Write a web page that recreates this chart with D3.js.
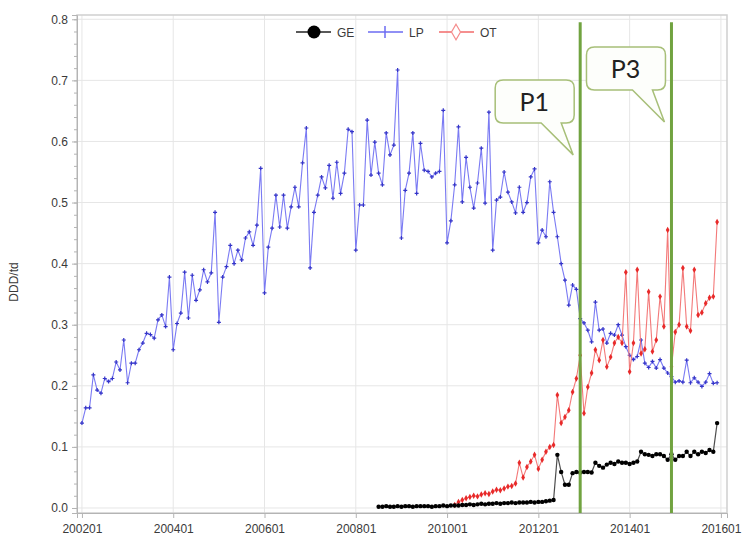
<!DOCTYPE html>
<html>
<head>
<meta charset="utf-8">
<script src="https://cdn.jsdelivr.net/npm/d3@7"></script>
<style>
  body { margin: 0; background: #fff; }
  svg { display: block; font-family: "Liberation Sans", Arial, sans-serif; }
</style>
</head>
<body>
<div id="chart"></div>
<script>
'use strict'

////////////////////////////////////////
/////////////// Data ///////////////////
////////////////////////////////////////

const xTickLabels = ["200201", "200401", "200601", "200801", "201001", "201201", "201401", "201601"];
const yTicks = [0, 0.1, 0.2, 0.3, 0.4, 0.5, 0.6, 0.7, 0.8];

// LP, monthly from 200201
const lpStart = "200201";
const lpValues = [
  0.139, 0.164, 0.164, 0.218, 0.193, 0.188, 0.212, 0.207, 0.212, 0.239, 0.226, 0.275,
  0.205, 0.237, 0.237, 0.259, 0.270, 0.286, 0.284, 0.278, 0.308, 0.316, 0.297, 0.378,
  0.259, 0.302, 0.319, 0.386, 0.311, 0.381, 0.340, 0.357, 0.390, 0.370, 0.385, 0.484,
  0.304, 0.378, 0.395, 0.430, 0.400, 0.422, 0.406, 0.442, 0.452, 0.430, 0.463, 0.556,
  0.352, 0.427, 0.458, 0.512, 0.460, 0.512, 0.458, 0.493, 0.525, 0.493, 0.565, 0.622,
  0.393, 0.484, 0.512, 0.542, 0.524, 0.561, 0.507, 0.566, 0.515, 0.548, 0.620, 0.616,
  0.422, 0.496, 0.496, 0.635, 0.545, 0.599, 0.548, 0.529, 0.614, 0.578, 0.594, 0.717,
  0.442, 0.520, 0.548, 0.614, 0.515, 0.597, 0.553, 0.551, 0.542, 0.548, 0.551, 0.651,
  0.434, 0.470, 0.529, 0.624, 0.501, 0.574, 0.525, 0.491, 0.532, 0.589, 0.499, 0.648,
  0.422, 0.504, 0.509, 0.550, 0.517, 0.501, 0.483, 0.525, 0.484, 0.500, 0.542, 0.555,
  0.434, 0.455, 0.444, 0.534, 0.484, 0.444, 0.400, 0.373, 0.332, 0.365, 0.358, 0.310,
  0.303, 0.291, 0.272, 0.337, 0.291, 0.293, 0.270, 0.286, 0.283, 0.300, 0.283, 0.264,
  0.250, 0.243, 0.248, 0.275, 0.237, 0.230, 0.240, 0.229, 0.243, 0.229, 0.221, 0.215,
  0.206, 0.208, 0.206, 0.242, 0.205, 0.213, 0.206, 0.199, 0.206, 0.220, 0.204, 0.205
];

// GE, monthly from 200807
const geStart = "200807";
const geValues = [
  0.002, 0.002, 0.003, 0.002, 0.002, 0.003, 0.002, 0.003, 0.003, 0.002, 0.003, 0.003,
  0.003, 0.003, 0.002, 0.003, 0.003, 0.004, 0.003, 0.004, 0.004, 0.004, 0.005, 0.005,
  0.006, 0.005, 0.006, 0.007, 0.006, 0.007, 0.007, 0.008, 0.007, 0.008, 0.008, 0.009,
  0.008, 0.009, 0.009, 0.009, 0.010, 0.009, 0.010, 0.010, 0.011, 0.012, 0.013, 0.087,
  0.059, 0.038, 0.038, 0.057, 0.059, 0.058, 0.059, 0.059, 0.058, 0.074, 0.069, 0.066,
  0.071, 0.074, 0.072, 0.076, 0.074, 0.074, 0.072, 0.074, 0.076, 0.092, 0.088, 0.087,
  0.085, 0.088, 0.088, 0.085, 0.079, 0.088, 0.079, 0.085, 0.085, 0.092, 0.085, 0.092,
  0.088, 0.092, 0.090, 0.095, 0.092, 0.139
];

// OT, monthly from 201003
const otStart = "201003";
const otValues = [
  0.005, 0.010, 0.013, 0.016, 0.018, 0.020, 0.019, 0.022, 0.024, 0.023, 0.027, 0.030,
  0.029, 0.032, 0.035, 0.036, 0.040, 0.074, 0.050, 0.067, 0.076, 0.087, 0.064, 0.079,
  0.092, 0.100, 0.103, 0.185, 0.139, 0.149, 0.160, 0.190, 0.212, 0.250, 0.155, 0.198,
  0.221, 0.259, 0.242, 0.275, 0.231, 0.247, 0.270, 0.280, 0.270, 0.386, 0.223, 0.270,
  0.390, 0.253, 0.260, 0.354, 0.256, 0.275, 0.346, 0.297, 0.455, 0.231, 0.288, 0.300,
  0.393, 0.297, 0.290, 0.390, 0.316, 0.320, 0.335, 0.344, 0.346, 0.468
];

// period markers
const periodLabels = ["P1", "P3"];
const periodMonths = ["201212", "201412"];
const periodTips = [0.578, 0.632];

////////////////////////////////////////
/////////////// Options ////////////////
////////////////////////////////////////

const options = {
  width: 747,
  height: 546,
  margin: { top: 15, right: 20, bottom: 33, left: 77 },
  grid: "#e6e6e6",
  axis: "#b4b4b4",
  text: "#3a3a3a",
  green: "#71a340",
  callStroke: "#a7bf78"
};

const series = [
  { name: "GE", start: geStart, values: geValues, line: "#222", dot: "#000" },
  { name: "LP", start: lpStart, values: lpValues, line: "#6b6bf2", dot: "#3434c8" },
  { name: "OT", start: otStart, values: otValues, line: "#f26a6a", dot: "#e82a2a" }
];

////////////////////////////////////////
////////////// Helpers /////////////////
////////////////////////////////////////

const monthIndex = s => (+s.slice(0, 4) - 2002) * 12 + (+s.slice(4) - 1);

const toPoints = s => s.values.map((v, i) => ({ m: monthIndex(s.start) + i, v: v }));

////////////////////////////////////////
////////////// SVG Setup ///////////////
////////////////////////////////////////

const m = options.margin;
const innerW = options.width - m.left - m.right;
const innerH = options.height - m.top - m.bottom;

const svg = d3.select("#chart").append("svg")
  .attr("width", options.width)
  .attr("height", options.height);

const x = d3.scaleLinear()
  .domain([-1.3, 169.6])
  .range([m.left, m.left + innerW]);

const y = d3.scaleLinear()
  .domain([-0.0082, 0.807])
  .range([m.top + innerH, m.top]);

// grid
svg.append("g")
  .selectAll("line")
  .data(yTicks)
  .join("line")
  .attr("x1", m.left).attr("x2", m.left + innerW)
  .attr("y1", d => y(d)).attr("y2", d => y(d))
  .attr("stroke", options.grid);

svg.append("g")
  .selectAll("line")
  .data(xTickLabels)
  .join("line")
  .attr("x1", d => x(monthIndex(d))).attr("x2", d => x(monthIndex(d)))
  .attr("y1", m.top).attr("y2", m.top + innerH)
  .attr("stroke", options.grid);

// frame
svg.append("rect")
  .attr("x", m.left).attr("y", m.top)
  .attr("width", innerW).attr("height", innerH)
  .attr("fill", "none")
  .attr("stroke", "#cfcfcf")
  .attr("stroke-width", 1.5);

////////////////////////////////////////
/////////////// Axes ///////////////////
////////////////////////////////////////

svg.append("g")
  .attr("transform", `translate(${m.left},0)`)
  .call(d3.axisLeft(y).tickValues(yTicks).tickFormat(d3.format(".1f")).tickSize(5).tickPadding(4));

svg.append("g")
  .attr("transform", `translate(${m.left},0)`)
  .call(d3.axisLeft(y).tickValues(d3.range(0, 0.801, 0.02)).tickFormat("").tickSize(3))
  .call(g => g.select(".domain").remove());

svg.append("g")
  .attr("transform", `translate(0,${m.top + innerH})`)
  .call(d3.axisBottom(x).tickValues(xTickLabels.map(monthIndex))
    .tickFormat((d, i) => xTickLabels[i]).tickSize(5).tickPadding(6));

svg.selectAll(".domain, .tick line").attr("stroke", options.axis);
svg.selectAll(".tick text")
  .attr("fill", options.text)
  .attr("font-size", 12)
  .attr("font-family", "'Liberation Sans', Arial, sans-serif");

svg.append("text")
  .attr("transform", `translate(18,${m.top + innerH / 2 + 18}) rotate(-90)`)
  .attr("text-anchor", "middle")
  .attr("font-size", 12)
  .attr("fill", options.text)
  .text("DDD/td");

////////////////////////////////////////
/////////////// Lines //////////////////
////////////////////////////////////////

const line = d3.line().x(d => x(d.m)).y(d => y(d.v));

const plotOrder = [series[1], series[2], series[0]];

plotOrder.forEach(s => {
  const pts = toPoints(s);
  const g = svg.append("g");

  g.append("path")
    .datum(pts)
    .attr("d", line)
    .attr("fill", "none")
    .attr("stroke", s.line)
    .attr("stroke-width", s.name === "GE" ? 1.2 : 1.1)
    .attr("stroke-opacity", s.name === "GE" ? 0.8 : 0.9);

  if (s.name === "LP") {
    g.selectAll("path.mk").data(pts).join("path").attr("class", "mk")
      .attr("transform", d => `translate(${x(d.m)},${y(d.v)})`)
      .attr("d", "M-2,0H2M0,-2V2")
      .attr("stroke", s.dot).attr("stroke-width", 1.2);
  } else if (s.name === "OT") {
    g.selectAll("path.mk").data(pts).join("path").attr("class", "mk")
      .attr("transform", d => `translate(${x(d.m)},${y(d.v)})`)
      .attr("d", d3.symbol(d3.symbolDiamond, 12))
      .attr("fill", s.dot);
  } else {
    g.selectAll("circle").data(pts).join("circle")
      .attr("cx", d => x(d.m)).attr("cy", d => y(d.v))
      .attr("r", 2.2).attr("fill", s.dot);
  }
});

////////////////////////////////////////
/////////////// Legend /////////////////
////////////////////////////////////////

const legendY = 32;
const legendX = [296, 368, 439];

const legend = svg.append("g")
  .selectAll("g")
  .data(series)
  .join("g")
  .attr("transform", (d, i) => `translate(${legendX[i]},${legendY})`);

legend.append("line")
  .attr("x1", 0).attr("x2", 35)
  .attr("stroke", d => d.line).attr("stroke-width", 1.5);

legend.each(function (d) {
  const g = d3.select(this);
  if (d.name === "GE") {
    g.append("circle").attr("cx", 18).attr("r", 6.5).attr("fill", "#000");
  } else if (d.name === "LP") {
    g.append("path").attr("d", "M17,-6V6").attr("stroke", d.line).attr("stroke-width", 1.5);
  } else {
    g.append("path").attr("transform", "translate(17,0)")
      .attr("d", d3.symbol(d3.symbolDiamond, 70))
      .attr("fill", "#fff").attr("stroke", "#f58b8b").attr("stroke-width", 1.2);
  }
});

legend.append("text")
  .attr("x", 41).attr("y", 4.5)
  .attr("font-size", 12)
  .attr("fill", options.text)
  .text(d => d.name);

////////////////////////////////////////
//////////// Period markers ////////////
////////////////////////////////////////

const periods = periodLabels.map((label, i) => ({
  label: label,
  m: monthIndex(periodMonths[i]),
  tip: periodTips[i]
}));

svg.append("g")
  .selectAll("line")
  .data(periods)
  .join("line")
  .attr("x1", d => x(d.m)).attr("x2", d => x(d.m))
  .attr("y1", y(0.795)).attr("y2", m.top + innerH)
  .attr("stroke", options.green)
  .attr("stroke-width", 3);

const calloutPath = d => {
  const tx = x(d.m) - 7, ty = y(d.tip);
  const l = tx - 78, r = tx + 1, t = ty - 75, b = ty - 32, k = 8;
  return `M${l + k},${t}H${r - k}Q${r},${t} ${r},${t + k}V${b - k}Q${r},${b} ${r - k},${b}` +
    `H${tx - 12}L${tx},${ty}L${tx - 32},${b}H${l + k}Q${l},${b} ${l},${b - k}V${t + k}Q${l},${t} ${l + k},${t}Z`;
};

const callouts = svg.append("g")
  .selectAll("g")
  .data(periods)
  .join("g");

callouts.append("path")
  .attr("d", calloutPath)
  .attr("fill", "#fdfefb")
  .attr("stroke", options.callStroke)
  .attr("stroke-width", 1.5);

callouts.append("text")
  .attr("x", d => x(d.m) - 7 - 39)
  .attr("y", d => y(d.tip) - 44)
  .attr("text-anchor", "middle")
  .attr("font-family", "Lato, 'Open Sans', sans-serif")
  .attr("font-size", 25)
  .attr("fill", "#222")
  .text(d => d.label);
</script>
</body>
</html>
